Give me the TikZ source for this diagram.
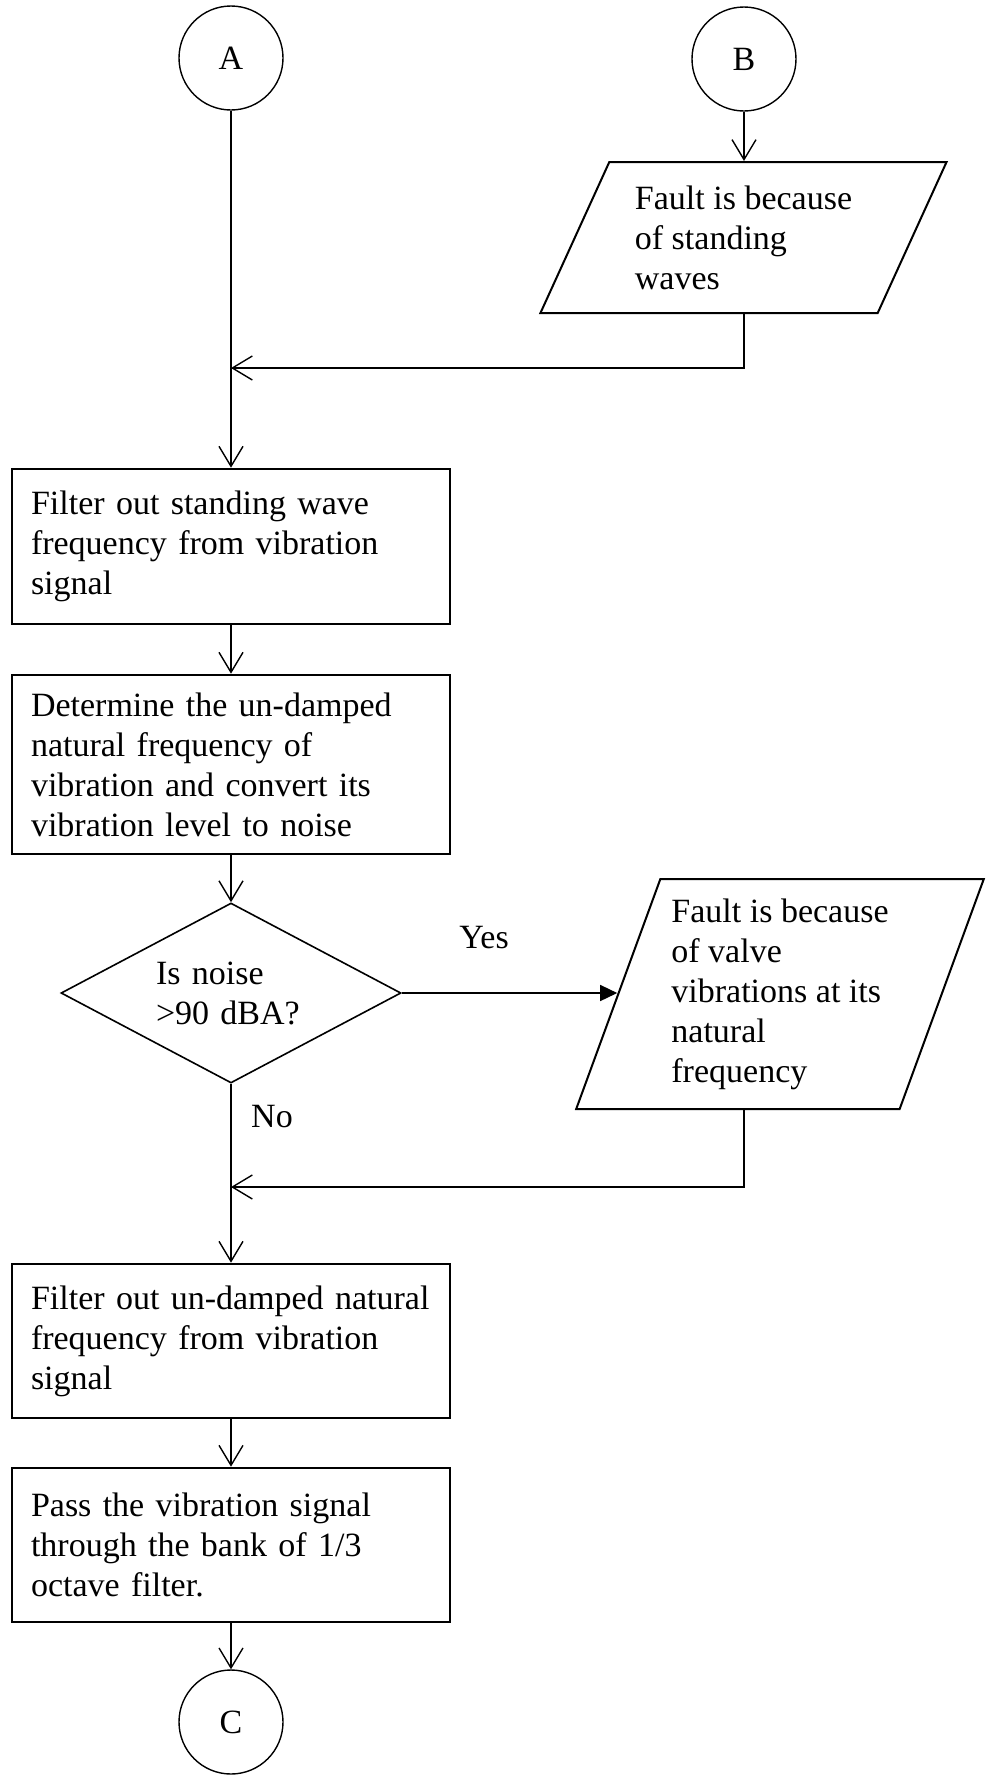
\documentclass[tikz,border=0pt]{standalone}
\usepackage{fontspec}
\setmainfont{Liberation Serif}
\usetikzlibrary{arrows.meta,shapes.geometric}
\begin{document}
\begin{tikzpicture}[x=1pt,y=-1pt,
  txt/.style={font=\fontsize{34}{40}\selectfont},
  conn/.style={line width=1.4pt,-{Straight Barb[length=20pt,width=24pt]}},
  yesarr/.style={line width=1.4pt,-{Triangle[length=17pt,width=16pt]}},
  connector/.style={circle,draw,line width=1.4pt,minimum size=104pt,inner sep=0pt,txt},
  procbox/.style={rectangle,draw,line width=2.6pt,minimum width=438pt,text width=400pt,
    inner xsep=19pt,inner ysep=0pt,align=left,txt},
  iobox/.style={trapezium,draw,line width=2pt,trapezium stretches=true,inner sep=0pt,
    align=left,txt},
  decision/.style={diamond,draw,line width=1.6pt,aspect=1.89,minimum width=340pt,
    minimum height=180pt,inner sep=0pt,text width=150pt,align=left,txt},
]
% page area
\path[use as bounding box,fill=white] (0,0) rectangle (986,1775);

% start connectors
\node[connector] (A) at (231,58) {A};
\node[connector] (B) at (744,59) {B};

% standing-wave branch
\node[iobox,trapezium left angle=61.8,trapezium right angle=118.2,
      minimum width=407pt,minimum height=151pt] (p1) at (743.5,237.5)
      {Fault is because\\of standing\\waves};
\coordinate (jA) at (231,368);

% main column
\node[procbox,minimum height=155pt] (b1) at (231,546.5)
  {Filter out standing wave\\frequency from vibration\\signal};
\node[procbox,minimum height=179pt] (b2) at (231,764.5)
  {Determine the un-damped\\natural frequency of\\vibration and convert its\\vibration level to noise};
\node[decision] (d) at (231,993) {Is noise\\>90 dBA?};

% natural-frequency branch
\node[iobox,trapezium left angle=68.2,trapezium right angle=111.8,
      minimum width=408pt,minimum height=230pt] (p2) at (780,994)
      {Fault is because\\of valve\\vibrations at its\\natural\\frequency};
\coordinate (jB) at (231,1187);

\node[procbox,minimum height=154pt] (b3) at (231,1341)
  {\mbox{Filter out un-damped natural}\\frequency from vibration\\signal};
\node[procbox,minimum height=154pt] (b4) at (231,1545)
  {Pass the vibration signal\\through the bank of 1/3\\octave filter.};
\node[connector] (C) at (231,1722) {C};

% branch labels
\node[txt,anchor=base] (yes) at (484,948) {Yes};
\node[txt,anchor=base] (no) at (272,1127) {No};

% flow lines
\draw[conn] (A) -- (b1);
\draw[conn] (B) -- (B |- p1.north);
\draw[conn] (B |- p1.south) |- (jA);
\draw[conn] (b1) -- (b2);
\draw[conn] (b2) -- (d);
\draw[yesarr] (d.east) -- (d.east -| p2.west);
\draw[conn] (B |- p2.south) |- (jB);
\draw[conn] (d) -- (b3);
\draw[conn] (b3) -- (b4);
\draw[conn] (b4) -- (C);
\end{tikzpicture}
\end{document}
